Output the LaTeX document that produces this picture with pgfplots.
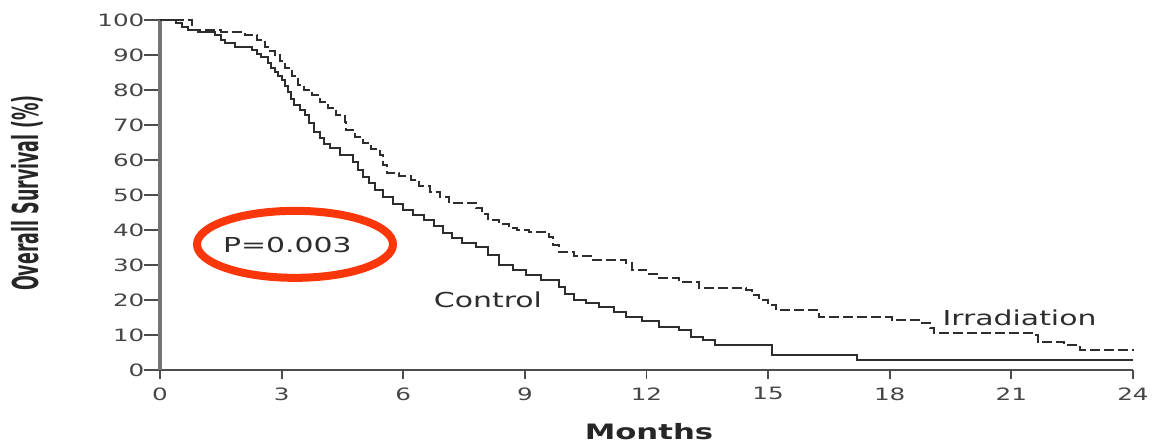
\documentclass[border=0pt]{standalone}
\usepackage{fontspec}
\setmainfont{DejaVu Sans}[FakeStretch=1.45]
\newfontfamily\plainfont{DejaVu Sans}
\usepackage{pgfplots}
\pgfplotsset{compat=1.18}
\definecolor{ellred}{RGB}{250,55,10}
\definecolor{curve}{RGB}{45,45,45}
\definecolor{tickc}{RGB}{70,70,70}
\begin{document}
\begin{tikzpicture}
\useasboundingbox (-80pt,-37pt) rectangle (499pt,185pt);
\begin{axis}[
  anchor=south west, at={(0,0)},
  scale only axis, width=486.5pt, height=175pt,
  xmin=0, xmax=24, ymin=0, ymax=100,
  axis x line*=bottom, axis y line*=left,
  x axis line style={draw=black!70, line width=1pt},
  y axis line style={draw=black!55, line width=2pt},
  xtick={0,3,...,24}, ytick={0,10,...,100},
  tick align=outside,
  xtick style={draw=black!70, line width=0.9pt, /pgfplots/major tick length=4.5pt},
  ytick style={draw=black!70, line width=0.9pt, /pgfplots/major tick length=8pt},
  /pgf/number format/assume math mode=true,
  ticklabel style={font=\fontsize{8.5}{10}\selectfont, text=tickc},
  xticklabel style={yshift=-1pt},
  clip=false,
]
\addplot[const plot, curve, line width=1pt] coordinates {
(0,100)(0.4,99)(0.55,98)(0.7,97)(0.93,96.6)(1.35,95.7)(1.5,94.3)(1.6,93.4)(1.85,92.3)(2.27,91.4)(2.4,90.3)(2.5,89.4)(2.66,87.7)(2.75,86.3)(2.83,85)(2.92,84)(3.0,82.8)(3.08,81)(3.15,79.4)(3.22,77.5)(3.3,75.7)(3.45,74.3)(3.57,72.9)(3.68,70.5)(3.8,68)(3.95,66.3)(4.05,64.5)(4.19,63.4)(4.45,61.4)(4.75,59.4)(4.88,57.1)(5.0,55.1)(5.15,53.4)(5.3,51.4)(5.5,49.4)(5.75,47.5)(6.0,45.7)(6.25,44.3)(6.5,42.9)(6.75,41)(6.97,39.1)(7.2,37.7)(7.46,36.3)(7.8,35.1)(8.1,32.9)(8.37,30)(8.7,28.6)(9.04,27.1)(9.4,25.7)(9.85,23.7)(10.0,21.7)(10.2,20)(10.5,19)(10.84,18)(11.2,16.6)(11.5,15.1)(11.9,14)(12.3,12.3)(12.8,11.4)(13.1,9.4)(13.4,8.6)(13.7,7.1)(15.1,4.3)(17.2,2.9)(24,2.9)
};
\addplot[const plot, curve, line width=1pt, dash pattern=on 5pt off 2pt] coordinates {
(0,100)(0.8,97)(1.5,96.6)(2.1,95.7)(2.4,94.3)(2.6,92.3)(2.72,91)(2.83,90)(2.95,88.3)(3.08,86.3)(3.25,84)(3.4,81.4)(3.55,80)(3.74,78.6)(3.95,76.6)(4.14,74.9)(4.35,72.9)(4.56,70.9)(4.6,68.6)(4.8,66.6)(5.0,64.9)(5.2,63.1)(5.42,61.4)(5.5,58.6)(5.6,56.3)(5.9,55.3)(6.2,54.3)(6.4,52.6)(6.65,50.9)(6.9,49.4)(7.14,47.7)(7.8,46.3)(7.95,44.6)(8.1,42.9)(8.37,41.7)(8.6,40.6)(8.8,40)(9.1,39.4)(9.6,38)(9.7,35.7)(9.85,33.7)(10.2,32.6)(10.67,31.4)(11.5,30.6)(11.65,28.6)(12.0,27.4)(12.3,26.3)(12.8,25.1)(13.3,23.4)(14.46,22.9)(14.6,21.4)(14.78,20)(15.0,18.6)(15.2,17.1)(16.26,15.1)(18.05,14.3)(18.8,13.4)(19.0,12)(19.1,10.6)(21.5,10)(21.65,8)(22.3,7)(22.7,5.7)(24,5.4)
};
\node[text=curve, font=\fontsize{10.3}{12}\selectfont] at (axis cs:8.09,20) {Control};
\node[text=curve, font=\fontsize{10.3}{12}\selectfont] at (axis cs:21.2,14.9) {Irradiation};
\node[text=curve, font=\fontsize{10.3}{12}\selectfont] at (axis cs:3.14,35.7) {P=0.003};
\draw[ellred, line width=4pt] (axis cs:3.33,35.9) ellipse [x radius=49pt, y radius=16.75pt];
\end{axis}
\node[text=black!85, font=\fontsize{10.6}{12}\selectfont\bfseries] at (244.5pt,-31pt) {Months};
\node[rotate=90, text=black!85] at (-66.5pt,88.5pt) {\scalebox{0.83}[1.7]{\plainfont\fontsize{10.5}{12}\selectfont\bfseries Overall Survival (\%)}};
\end{tikzpicture}
\end{document}
